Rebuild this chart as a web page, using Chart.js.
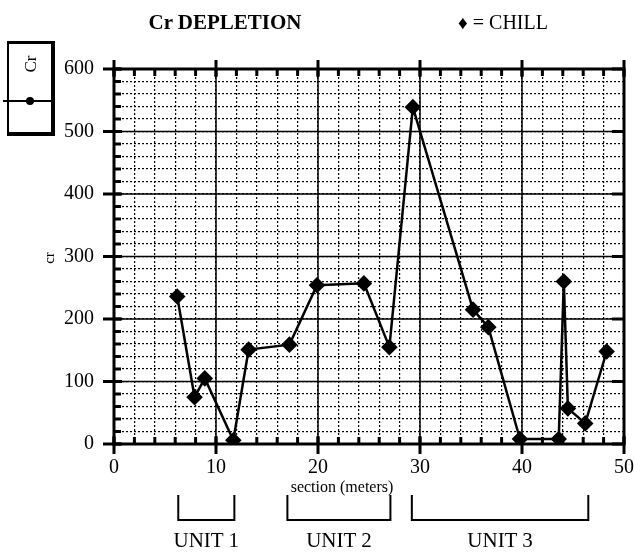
<!DOCTYPE html>
<html>
<head>
<meta charset="utf-8">
<script src="https://cdn.jsdelivr.net/npm/chart.js@4.4.0/dist/chart.umd.min.js"></script>
<style>
    html, body { margin: 0; padding: 0; background: #fff; }
    #wrap { position: relative; width: 634px; height: 553px; overflow: hidden;
            font-family: 'Liberation Serif', 'Times New Roman', serif; color: #000; }
    #crChart { position: absolute; left: 0; top: 0; }
    .lbl { position: absolute; white-space: nowrap; line-height: 1; transform: translate(-50%, -50%); }
    #title { left: 225px; top: 22px; font-size: 21px; font-weight: bold; }
    #chill { left: 503px; top: 22px; font-size: 20px; }
    #chill span { font-size: 19px; }
    #xTitle { left: 342px; top: 487px; font-size: 16px; }
    #yTitle { left: 49px; top: 258px; font-size: 15px; transform: translate(-50%, -50%) rotate(-90deg); }
    #legendBox { position: absolute; left: 7px; top: 41px; width: 42px; height: 88px;
                 border-left: 2px solid #000; border-top: 3px solid #000;
                 border-right: 4px solid #000; border-bottom: 4px solid #000; }
    #legendText { left: 30px; top: 64px; font-size: 17px; transform: translate(-50%, -50%) rotate(-90deg); }
    #legendLine { position: absolute; left: 3px; top: 100px; width: 51px; height: 2px; background: #000; }
    #legendDot { position: absolute; left: 26px; top: 97px; width: 8px; height: 8px; border-radius: 50%; background: #000; }
    .unit { font-size: 21px; }
</style>
</head>
<body>
<div id="wrap">
    <canvas id="crChart" width="634" height="553"></canvas>
    <div class="lbl" id="title">Cr DEPLETION</div>
    <div class="lbl" id="chill"><span>&#9830;</span> = CHILL</div>
    <div id="legendBox"></div>
    <div class="lbl" id="legendText">Cr</div>
    <div id="legendLine"></div>
    <div id="legendDot"></div>
    <div class="lbl" id="yTitle">cr</div>
    <div class="lbl" id="xTitle">section (meters)</div>
</div>
<script>
// section position (m) and Cr value
const sectionMeters = [6.2, 7.9, 8.9, 11.7, 13.2, 17.2, 19.9, 24.5, 27.0, 29.3, 35.2, 36.7, 39.8, 43.6, 44.1, 44.5, 46.2, 48.3];
const crValues = [236, 75, 105, 6, 151, 159, 254, 257, 155, 539, 215, 187, 8, 8, 260, 57, 33, 148];

// axis tick labels
const xTickLabels = [0, 10, 20, 30, 40, 50];
const yTickLabels = [0, 100, 200, 300, 400, 500, 600];

// stratigraphic units under the axis (meters)
const unitNames = ['UNIT 1', 'UNIT 2', 'UNIT 3'];
const unitStart = [6.3, 17.0, 29.2];
const unitEnd = [11.8, 27.1, 46.5];

const serif = "'Liberation Serif', 'Times New Roman', serif";

const frameTicks = {
    id: 'frameTicks',
    beforeDatasetsDraw(chart) {
        const { ctx, chartArea: a, scales: { x, y } } = chart;
        ctx.save();
        ctx.strokeStyle = '#000';

        // solid major grid lines
        ctx.lineWidth = 1.5;
        xTickLabels.forEach(v => {
            const px = x.getPixelForValue(v);
            ctx.beginPath(); ctx.moveTo(px, a.top); ctx.lineTo(px, a.bottom); ctx.stroke();
        });
        yTickLabels.forEach(v => {
            const py = y.getPixelForValue(v);
            ctx.beginPath(); ctx.moveTo(a.left, py); ctx.lineTo(a.right, py); ctx.stroke();
        });

        // minor tick marks inside the frame
        ctx.lineWidth = 3;
        for (let v = 0; v <= 50; v += 2) {
            const px = x.getPixelForValue(v);
            ctx.beginPath(); ctx.moveTo(px, a.bottom); ctx.lineTo(px, a.bottom - 7); ctx.stroke();
            ctx.beginPath(); ctx.moveTo(px, a.top); ctx.lineTo(px, a.top + 7); ctx.stroke();
        }
        for (let v = 0; v <= 600; v += 20) {
            const py = y.getPixelForValue(v);
            ctx.beginPath(); ctx.moveTo(a.left, py); ctx.lineTo(a.left + 7, py); ctx.stroke();
        }

        // major tick marks crossing the frame
        xTickLabels.forEach(v => {
            const px = x.getPixelForValue(v);
            ctx.beginPath(); ctx.moveTo(px, a.bottom - 8); ctx.lineTo(px, a.bottom + 10); ctx.stroke();
            ctx.beginPath(); ctx.moveTo(px, a.top - 9); ctx.lineTo(px, a.top + 8); ctx.stroke();
        });
        yTickLabels.forEach(v => {
            const py = y.getPixelForValue(v);
            ctx.beginPath(); ctx.moveTo(a.left - 11, py); ctx.lineTo(a.left + 8, py); ctx.stroke();
            ctx.beginPath(); ctx.moveTo(a.right - 12, py); ctx.lineTo(a.right, py); ctx.stroke();
        });

        // frame
        ctx.lineWidth = 3;
        ctx.strokeRect(a.left, a.top, a.right - a.left, a.bottom - a.top);
        ctx.restore();
    },
    afterDraw(chart) {
        // unit brackets under the section axis
        const { ctx, scales: { x } } = chart;
        ctx.save();
        ctx.strokeStyle = '#000';
        ctx.lineWidth = 2;
        unitNames.forEach((name, i) => {
            const x1 = x.getPixelForValue(unitStart[i]);
            const x2 = x.getPixelForValue(unitEnd[i]);
            ctx.beginPath();
            ctx.moveTo(x1, 495); ctx.lineTo(x1, 520); ctx.lineTo(x2, 520); ctx.lineTo(x2, 495);
            ctx.stroke();
        });
        ctx.restore();
    }
};

document.addEventListener('DOMContentLoaded', function () {
    const canvas = document.getElementById('crChart');
    const chart = new Chart(canvas.getContext('2d'), {
        type: 'line',
        data: {
            datasets: [{
                label: 'Cr',
                data: sectionMeters.map((m, i) => ({ x: m, y: crValues[i] })),
                borderColor: '#000',
                borderWidth: 2.5,
                tension: 0,
                pointStyle: 'rectRot',
                pointRadius: 6.5,
                pointBackgroundColor: '#000',
                pointBorderColor: '#000'
            }]
        },
        options: {
            responsive: false,
            animation: false,
            layout: { padding: { top: 69, right: 10, left: 0, bottom: 0 } },
            plugins: {
                legend: { display: false },
                tooltip: { enabled: false }
            },
            scales: {
                x: {
                    type: 'linear',
                    min: 0,
                    max: 50,
                    afterFit: scale => { scale.height = 109; },
                    border: { display: false, dash: [2, 2] },
                    grid: { color: '#000', lineWidth: 1.2, drawTicks: true, tickLength: 12, tickColor: 'rgba(0,0,0,0)' },
                    ticks: {
                        stepSize: 2,
                        autoSkip: false,
                        maxRotation: 0,
                        padding: 0,
                        color: '#000',
                        font: { family: serif, size: 20 },
                        callback: v => xTickLabels.includes(v) ? String(v) : ''
                    }
                },
                y: {
                    min: 0,
                    max: 600,
                    afterFit: scale => { scale.width = 114; },
                    border: { display: false, dash: [2, 2] },
                    grid: { color: '#000', lineWidth: 1.2, drawTicks: false },
                    ticks: {
                        stepSize: 20,
                        autoSkip: false,
                        padding: 20,
                        color: '#000',
                        font: { family: serif, size: 20 },
                        callback: v => yTickLabels.includes(v) ? String(v) : ''
                    }
                }
            }
        },
        plugins: [frameTicks]
    });

    // unit labels centred under their brackets
    const wrap = document.getElementById('wrap');
    unitNames.forEach((name, i) => {
        const el = document.createElement('div');
        el.className = 'lbl unit';
        el.textContent = name;
        el.style.left = ((chart.scales.x.getPixelForValue(unitStart[i]) + chart.scales.x.getPixelForValue(unitEnd[i])) / 2) + 'px';
        el.style.top = '540px';
        wrap.appendChild(el);
    });
});
</script>
</body>
</html>
